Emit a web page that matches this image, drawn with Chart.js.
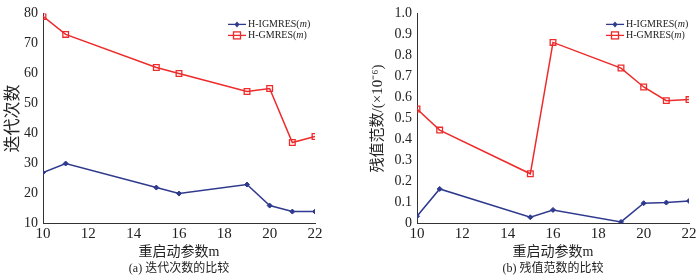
<!DOCTYPE html>
<html>
<head>
<meta charset="utf-8">
<script src="https://cdn.jsdelivr.net/npm/chart.js@4/dist/chart.umd.min.js"></script>
<style>
  html, body { margin: 0; padding: 0; background: #fff; }
  #wrap { position: relative; width: 700px; height: 279px; }
  .box { position: absolute; top: 0; width: 350px; height: 279px; }
</style>
</head>
<body>
<div id="wrap">
  <div class="box" style="left:0"><canvas id="chartA"></canvas></div>
  <div class="box" style="left:350px"><canvas id="chartB"></canvas></div>
</div>
<script>
// restart parameter m
const restartM = [10, 11, 15, 16, 19, 20, 21, 22];
const xTicks = [10, 12, 14, 16, 18, 20, 22];

// (a) iteration counts
const iterIGMRES = [27, 30, 22, 20, 23, 16, 14, 14];
const iterGMRES = [79, 73, 62, 60, 54, 55, 37, 39];

// (b) residual norm (x 1e-6)
const resIGMRES = [0.035, 0.165, 0.03, 0.065, 0.008, 0.097, 0.1, 0.108];
const resGMRES = [0.545, 0.445, 0.237, 0.862, 0.74, 0.65, 0.585, 0.59];

const seriesNames = ["H-IGMRES(m)", "H-GMRES(m)"];

const BLUE = "#2f3a8e";
const RED = "#ee2a2a";
const SERIF = "'Liberation Serif', 'Times New Roman', 'Noto Sans CJK SC', serif";
const CJK = "'Liberation Serif', 'Noto Sans CJK SC', serif";

// small legend drawn inside the plot, top right
const innerLegend = {
  id: "innerLegend",
  afterDatasetsDraw(chart, args, opts) {
    const ctx = chart.ctx;
    const a = chart.chartArea;
    const x0 = a.right - opts.offset;
    ctx.save();
    chart.data.datasets.forEach((ds, i) => {
      const y = a.top + 11 + i * 11;
      ctx.strokeStyle = ds.borderColor;
      ctx.lineWidth = 1.3;
      ctx.beginPath();
      ctx.moveTo(x0, y);
      ctx.lineTo(x0 + 18, y);
      ctx.stroke();
      const cx = x0 + 9;
      if (ds.pointStyle === "rect") {
        ctx.strokeRect(cx - 3.5, y - 3.5, 7, 7);
      } else {
        ctx.fillStyle = ds.borderColor;
        ctx.beginPath();
        ctx.moveTo(cx, y - 3);
        ctx.lineTo(cx + 2.5, y);
        ctx.lineTo(cx, y + 3);
        ctx.lineTo(cx - 2.5, y);
        ctx.closePath();
        ctx.fill();
      }
      ctx.fillStyle = "#222";
      ctx.textBaseline = "middle";
      const name = ds.label.replace("(m)", "(");
      ctx.font = "10px " + SERIF;
      ctx.fillText(name, x0 + 20, y);
      let w = ctx.measureText(name).width;
      ctx.font = "italic 10px " + SERIF;
      ctx.fillText("m", x0 + 20 + w, y);
      w += ctx.measureText("m").width;
      ctx.font = "10px " + SERIF;
      ctx.fillText(")", x0 + 20 + w, y);
    });
    ctx.restore();
  }
};

function makeChart(id, igmres, gmres, yMin, yMax, yStep, yTitle, caption, yWidth, rightPad, legendOffset, yDigits, titleSize, titlePad) {
  const ctx = document.getElementById(id).getContext("2d");
  return new Chart(ctx, {
    type: "line",
    data: {
      datasets: [
        {
          label: seriesNames[0],
          data: restartM.map((m, i) => ({ x: m, y: igmres[i] })),
          borderColor: BLUE,
          backgroundColor: BLUE,
          borderWidth: 1.5,
          pointStyle: "rectRot",
          pointRadius: 2.5,
          pointBorderWidth: 1,
          tension: 0,
        },
        {
          label: seriesNames[1],
          data: restartM.map((m, i) => ({ x: m, y: gmres[i] })),
          borderColor: RED,
          backgroundColor: "rgba(255,255,255,0)",
          borderWidth: 1.5,
          pointStyle: "rect",
          pointRadius: 4,
          pointBorderWidth: 1.3,
          tension: 0,
        },
      ],
    },
    options: {
      responsive: false,
      animation: false,
      layout: { padding: { top: 12, right: rightPad, left: 0, bottom: 0 } },
      scales: {
        x: {
          type: "linear",
          min: 10,
          max: 22,
          afterBuildTicks: (s) => { s.ticks = xTicks.map((v) => ({ value: v })); },
          afterFit: (s) => { s.height = 37; },
          grid: { display: false, drawTicks: false },
          border: { display: true, color: "#333", width: 1 },
          ticks: { color: "#222", font: { family: SERIF, size: 15 }, padding: 1, maxRotation: 0 },
          title: { display: true, text: "重启动参数m", color: "#222", font: { family: CJK, size: 14 }, padding: { top: 0, bottom: 0 } },
        },
        y: {
          min: yMin,
          max: yMax,
          afterFit: (s) => { s.width = yWidth; },
          grid: { display: false, drawTicks: false },
          border: { display: true, color: "#333", width: 1 },
          ticks: {
            stepSize: yStep,
            color: "#222",
            padding: 5,
            font: { family: SERIF, size: 14 },
            callback: (v) => (yDigits ? (v === 0 ? "0" : v.toFixed(yDigits)) : v),
          },
          title: { display: true, text: yTitle, color: "#222", font: { family: CJK, size: titleSize }, padding: { top: titlePad, bottom: 0 } },
        },
      },
      plugins: {
        legend: { display: false },
        tooltip: { enabled: false },
        title: {
          display: true,
          position: "bottom",
          fullSize: false,
          text: caption,
          color: "#222",
          font: { family: CJK, size: 12, weight: "normal" },
          padding: { top: 1, bottom: 3 },
        },
        innerLegend: { offset: legendOffset },
      },
    },
    plugins: [innerLegend],
  });
}

function setSize(id) {
  const c = document.getElementById(id);
  c.width = 350;
  c.height = 279;
  c.style.width = "350px";
  c.style.height = "279px";
}
setSize("chartA");
setSize("chartB");

makeChart("chartA", iterIGMRES, iterGMRES, 10, 80, 10, "迭代次数", "(a) 迭代次数的比较", 43, 35, 87, 0, 17, 3);
makeChart("chartB", resIGMRES, resGMRES, 0, 1.0, 0.1, "残值范数/(×10⁻⁶)", "(b) 残值范数的比较", 67, 11, 83, 1, 15, 19);
</script>
</body>
</html>
